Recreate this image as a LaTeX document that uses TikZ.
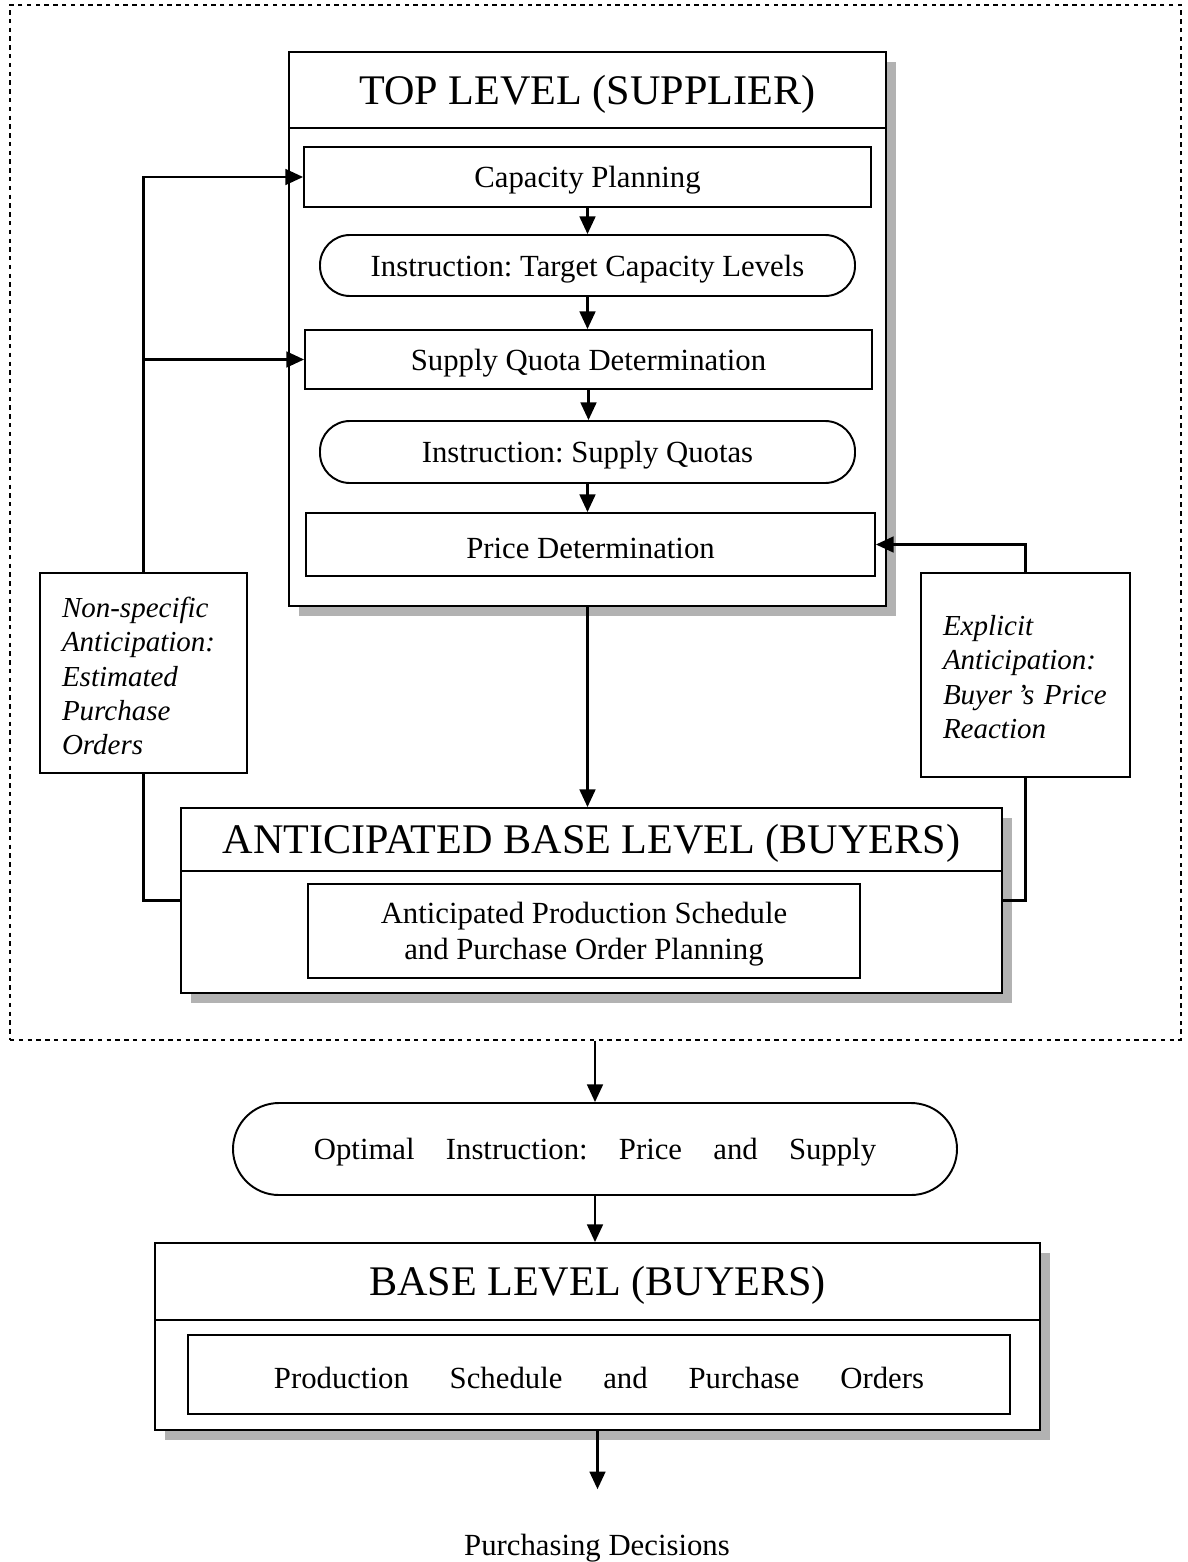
\documentclass[tikz,border=0pt]{standalone}
\usepackage{fontspec}
\setmainfont{Liberation Serif}
\frenchspacing
\usetikzlibrary{arrows.meta,fit,shadows}

\begin{document}
\begin{tikzpicture}[x=0.02cm,y=-0.02cm,
  box/.style={draw, line width=1.1pt, fill=white, inner sep=0pt},
  sbox/.style={box, drop shadow={shadow xshift=0.2cm, shadow yshift=-0.2cm, fill=black!30, opacity=1}},
  rbox/.style={box, rounded corners=0.6cm},
  txt/.style={inner sep=0pt, font=\fontsize{17.5}{21}\selectfont, align=center, yshift=-0.07cm},
  hdr/.style={font=\fontsize{24}{28}\selectfont, inner sep=0pt, yshift=-0.07cm},
  side/.style={inner sep=0pt, font=\itshape\fontsize{16.5}{19.6}\selectfont, text width=#1, align=left},
  conn/.style={line width=1.2pt},
  arr/.style={conn, -{Triangle[width=9pt,length=10pt]}},
]
\useasboundingbox (0,0) rectangle (1187,1562);
\fill[white] (0,0) rectangle (1187,1562);

% dashed frame
\node[fit={(10,5)(1181,1040)}, draw, inner sep=0pt, line width=0.8pt, dash pattern=on 2.5pt off 2.5pt] (frame) {};

% top level
\node[sbox, fit={(289,52)(886,606)}] (top) {};
\draw[conn] (289,128) -- (886,128);
\node[hdr] (toph) at (587.5,91) {TOP LEVEL (SUPPLIER)};

\node[box, fit={(304,147)(871,207)}] (cap) {};
\node[txt] (capt) at (cap.center) {Capacity Planning};
\node[rbox, fit={(320,235)(855,296)}] (itc) {};
\node[txt] (itct) at (itc.center) {Instruction: Target Capacity Levels};
\node[box, fit={(305,330)(872,389)}] (sqd) {};
\node[txt] (sqdt) at (sqd.center) {Supply Quota Determination};
\node[rbox, fit={(320,421)(855,483)}] (isq) {};
\node[txt] (isqt) at (isq.center) {Instruction: Supply Quotas};
\node[box, fit={(306,513)(875,576)}] (pd) {};
\node[txt] (pdt) at (pd.center) {Price Determination};

\draw[arr] (cap.south) -- (cap.south |- itc.north);
\draw[arr] (itc.south) -- (itc.south |- sqd.north);
\draw[arr] (sqd.south) -- (sqd.south |- isq.north);
\draw[arr] (isq.south) -- (isq.south |- pd.north);

% side boxes
\node[box, fit={(40,573)(247,773)}] (ns) {};
\node[side=3.26cm] (nst) at ([yshift=-0.06cm]ns.center) {Non-specific\\Anticipation:\\Estimated\\Purchase\\Orders};
\node[box, fit={(921,573)(1130,777)}] (ex) {};
\node[side=3.3cm] (ext) at ([yshift=-0.04cm]ex.center) {Explicit\\Anticipation:\\Buyer\,’s Price\\Reaction};

% anticipated base level
\node[sbox, fit={(181,808)(1002,993)}] (abl) {};
\draw[conn] (181,871) -- (1002,871);
\node[hdr] (ablh) at (591.5,840) {ANTICIPATED BASE LEVEL (BUYERS)};
\node[box, fit={(308,884)(860,978)}] (apsp) {};
\node[txt, font=\fontsize{17.5}{20.5}\selectfont] (apspt) at (apsp.center) {Anticipated Production Schedule\\and Purchase Order Planning};

% connectors in frame
\draw[arr] (ns.north) |- (cap.west);
\draw[arr] (ns.north |- sqd.west) -- (sqd.west);
\draw[conn] (ns.south) |- (abl.west);
\draw[arr] (ex.north) |- (pd.east);
\draw[conn] (ex.south) |- (abl.east);
\draw[arr] (top.south) -- (top.south |- abl.north);

% optimal instruction
\node[box, rounded corners=0.92cm, fit={(233,1103)(957,1195)}] (opt) {};
\node[txt] (optt) at (opt.center) {\makebox[320pt][s]{Optimal Instruction: Price and Supply}};
\draw[arr] (frame.south -| opt.north) -- (opt.north);

% base level
\node[sbox, fit={(155,1243)(1040,1430)}] (base) {};
\draw[conn] (155,1320) -- (1040,1320);
\node[hdr] (baseh) at (597.5,1282) {BASE LEVEL (BUYERS)};
\node[box, fit={(188,1335)(1010,1414)}] (pso) {};
\node[txt] (psot) at (pso.center) {\makebox[370pt][s]{Production Schedule and Purchase Orders}};
\draw[arr] (opt.south) -- (opt.south |- base.north);

% output
\node[txt] (pdec) at (597,1545) {Purchasing Decisions};
\draw[arr, shorten >=0.9cm] (base.south) -- (base.south |- pdec.north);
\end{tikzpicture}
\end{document}
